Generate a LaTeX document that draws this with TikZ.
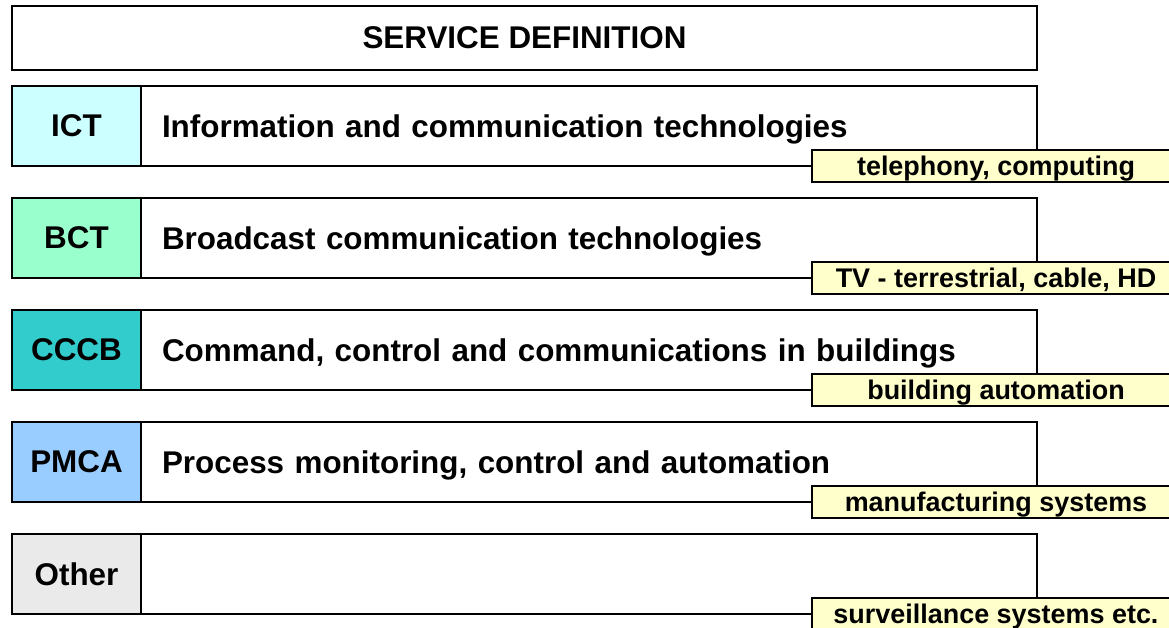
\documentclass[tikz,border=0pt]{standalone}
\usepackage{fontspec}
\setmainfont{Liberation Sans}
\usetikzlibrary{positioning}
\definecolor{ictcol}{HTML}{CCFFFF}
\definecolor{bctcol}{HTML}{99FFCC}
\definecolor{cccbcol}{HTML}{33CCCC}
\definecolor{pmcacol}{HTML}{99CCFF}
\definecolor{othercol}{HTML}{EAEAEA}
\definecolor{tagcol}{HTML}{FFFFCC}
\begin{document}
\begin{tikzpicture}[x=0.03cm, y=-0.03cm,
		every node/.style={outer sep=0pt, text depth=0pt, font=\fontsize{26.8}{32}\selectfont\bfseries},
		titlebox/.style={draw, line width=1.4pt, fill=white, minimum width=30.75cm, minimum height=1.92cm},
		abbrbox/.style={draw, line width=1.4pt, minimum width=3.87cm, minimum height=2.4cm, anchor=north west},
		mainbox/.style={draw, line width=1.4pt, fill=white, minimum height=2.4cm, text width=25.62cm, inner xsep=0.63cm, align=left},
		tagbox/.style={draw, line width=1.4pt, fill=tagcol, minimum width=11.04cm, minimum height=0.96cm, anchor=west, font=\fontsize{23}{27}\selectfont\bfseries}
		]
		\clip (0,0) rectangle (1169,628);
		\node[titlebox](S0) at (524.5,38){SERVICE DEFINITION};
		% ICT
		\node[abbrbox, fill=ictcol](A1) at (12,86){ICT};
		\node[mainbox, right = 0pt of A1](M1){Information and communication technologies};
		\node[tagbox](T1) at (812,166){telephony, computing};
		% BCT
		\node[abbrbox, fill=bctcol](A2) at (12,198){BCT};
		\node[mainbox, right = 0pt of A2](M2){Broadcast communication technologies};
		\node[tagbox](T2) at (812,278){TV - terrestrial, cable, HD};
		% CCCB
		\node[abbrbox, fill=cccbcol](A3) at (12,310){CCCB};
		\node[mainbox, right = 0pt of A3](M3){Command, control and communications in buildings};
		\node[tagbox](T3) at (812,390){building automation};
		% PMCA
		\node[abbrbox, fill=pmcacol](A4) at (12,422){PMCA};
		\node[mainbox, right = 0pt of A4](M4){Process monitoring, control and automation};
		\node[tagbox](T4) at (812,502){manufacturing systems};
		% Other
		\node[abbrbox, fill=othercol](A5) at (12,534){Other};
		\node[mainbox, right = 0pt of A5](M5){};
		\node[tagbox](T5) at (812,614){surveillance systems etc.};
	\end{tikzpicture}
\end{document}
